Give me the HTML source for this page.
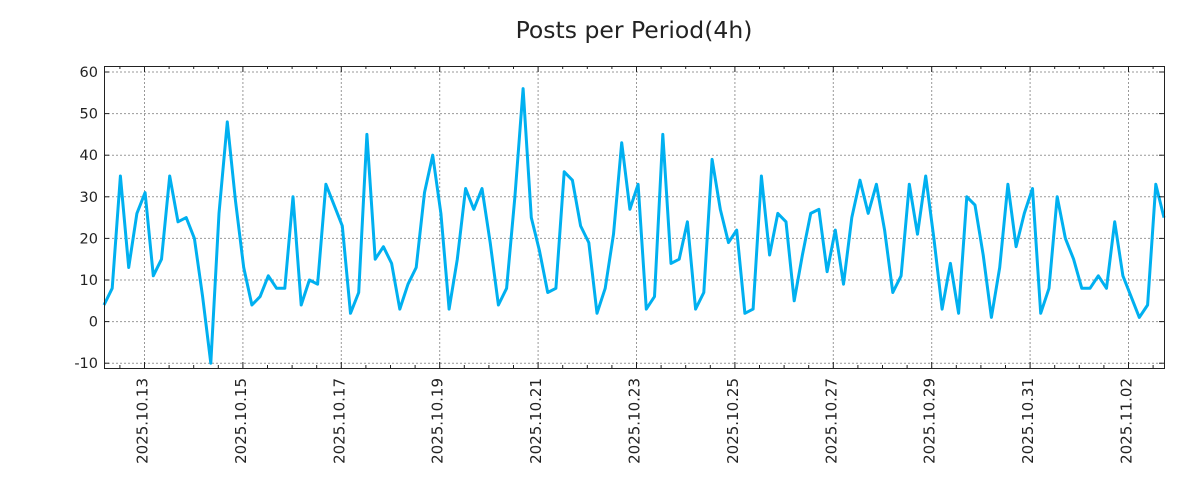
<!DOCTYPE html>
<html><head><meta charset="utf-8"><style>
body{margin:0;background:#fff;}
svg{display:block;font-family:"DejaVu Sans","Liberation Sans",sans-serif;}
</style></head><body>
<svg id="s" width="1200" height="500" xmlns="http://www.w3.org/2000/svg">
<rect width="1200" height="500" fill="#fff"/>
<text x="634" y="38" font-size="23.5" text-anchor="middle" fill="#222">Posts per Period(4h)</text>
<g id="grid"></g>
<polyline id="line" fill="none" stroke="#00b0f0" stroke-width="3" stroke-linejoin="round"/>
<rect x="104.5" y="66.5" width="1060" height="302" fill="none" stroke="#222" stroke-width="1"/>
<g id="ticks"></g>
</svg>
<script>
var L=104,R=1164,T=66,B=368;
function Y(v){return 321.6-v*4.16;}
var g='',t='';
for(var v=-10;v<=60;v+=10){var y=Y(v);
 g+='<line x1="'+L+'" x2="'+R+'" y1="'+y+'" y2="'+y+'" stroke="#999" stroke-dasharray="2,2"/>';
 t+='<line x1="'+L+'" x2="'+(L+5)+'" y1="'+y+'" y2="'+y+'" stroke="#222"/><line x1="'+(R-5)+'" x2="'+R+'" y1="'+y+'" y2="'+y+'" stroke="#222"/>';
 t+='<text x="98" y="'+(y+5)+'" font-size="14.5" text-anchor="end" fill="#222">'+v+'</text>';}
var labs=['2025.10.13','2025.10.15','2025.10.17','2025.10.19','2025.10.21','2025.10.23','2025.10.25','2025.10.27','2025.10.29','2025.10.31','2025.11.02'];
var x0=144.5,day=49.2;
for(var k=-2;k<45;k++){var x=x0+k*day/2; if(x<L||x>R)continue;
 var maj=(k%4==0);
 var len=maj?6:3;
 t+='<line x1="'+x+'" x2="'+x+'" y1="'+B+'" y2="'+(B-len)+'" stroke="#222"/><line x1="'+x+'" x2="'+x+'" y1="'+T+'" y2="'+(T+len)+'" stroke="#222"/>';
 if(maj){g+='<line x1="'+x+'" x2="'+x+'" y1="'+T+'" y2="'+B+'" stroke="#999" stroke-dasharray="2,2"/>';
  var lb=labs[k/4]; if(lb) t+='<text transform="translate('+(x+3)+',378) rotate(-90)" font-size="15" text-anchor="end" fill="#222">'+lb+'</text>';}
}
document.getElementById('grid').innerHTML=g;document.getElementById('ticks').innerHTML=t;
var d=[4,8,35,13,26,31,11,15,35,24,25,20,6,-10,26,48,29,13,4,6,11,8,8,30,4,10,9,33,28,23,2,7,45,15,18,14,3,9,13,31,40,26,3,15,32,27,32,19,4,8,30,56,25,17,7,8,36,34,23,19,2,8,21,43,27,33,3,6,45,14,15,24,3,7,39,27,19,22,2,3,35,16,26,24,5,16,26,27,12,22,9,25,34,26,33,22,7,11,33,21,35,20,3,14,2,30,28,16,1,13,33,18,26,32,2,8,30,20,15,8,8,11,8,24,11,6,1,4,33,25];
var step=(R-L)/(d.length-1),p=[];
for(var i=0;i<d.length;i++)p.push((L+i*step).toFixed(1)+','+Y(d[i]).toFixed(1));
document.getElementById('line').setAttribute('points',p.join(' '));
</script>
</body></html>
